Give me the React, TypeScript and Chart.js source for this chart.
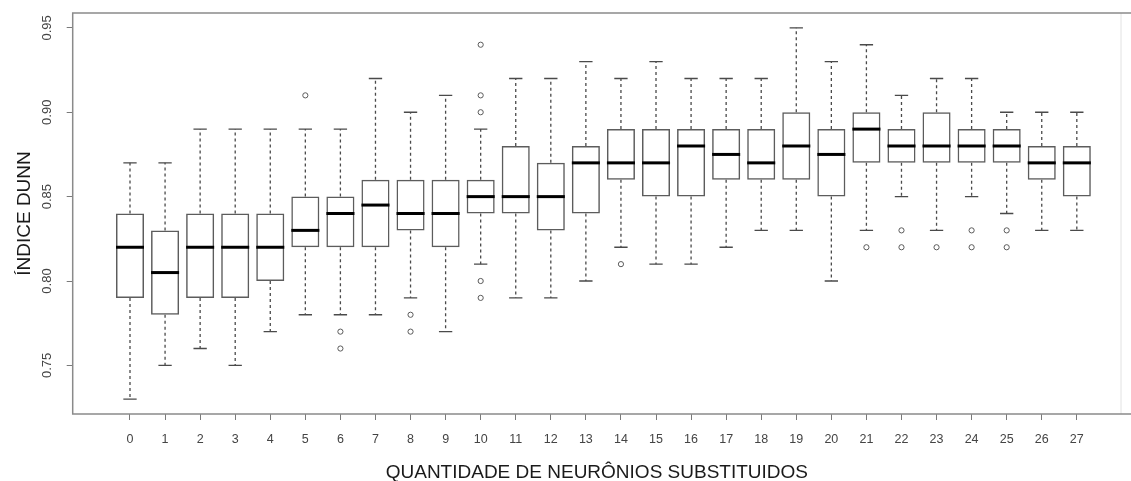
import React, { useEffect, useRef } from 'react';
import { Chart, registerables } from 'chart.js';

Chart.register(...registerables);

// ---- data ----
const categories = ['0','1','2','3','4','5','6','7','8','9','10','11','12','13','14','15','16','17','18','19','20','21','22','23','24','25','26','27'];
const lowerWhisker = [0.73,0.75,0.76,0.75,0.77,0.78,0.78,0.78,0.79,0.77,0.81,0.79,0.79,0.80,0.82,0.81,0.81,0.82,0.83,0.83,0.80,0.83,0.85,0.83,0.85,0.84,0.83,0.83];
const q1 = [0.79,0.78,0.79,0.79,0.80,0.82,0.82,0.82,0.83,0.82,0.84,0.84,0.83,0.84,0.86,0.85,0.85,0.86,0.86,0.86,0.85,0.87,0.87,0.87,0.87,0.87,0.86,0.85];
const median = [0.82,0.805,0.82,0.82,0.82,0.83,0.84,0.845,0.84,0.84,0.85,0.85,0.85,0.87,0.87,0.87,0.88,0.875,0.87,0.88,0.875,0.89,0.88,0.88,0.88,0.88,0.87,0.87];
const q3 = [0.84,0.83,0.84,0.84,0.84,0.85,0.85,0.86,0.86,0.86,0.86,0.88,0.87,0.88,0.89,0.89,0.89,0.89,0.89,0.90,0.89,0.90,0.89,0.90,0.89,0.89,0.88,0.88];
const upperWhisker = [0.87,0.87,0.89,0.89,0.89,0.89,0.89,0.92,0.90,0.91,0.89,0.92,0.92,0.93,0.92,0.93,0.92,0.92,0.92,0.95,0.93,0.94,0.91,0.92,0.92,0.90,0.90,0.90];
const outlierIndex = [5,6,6,8,8,10,10,10,10,10,14,21,22,22,23,24,24,25,25];
const outlierValue = [0.91,0.77,0.76,0.78,0.77,0.94,0.91,0.90,0.80,0.79,0.81,0.82,0.83,0.82,0.82,0.83,0.82,0.83,0.82];
const yTicks = [0.75,0.80,0.85,0.90,0.95];
const yMin = 0.7212;
const yMax = 0.9588;
const xMin = -1.634;
const xMax = 28.26;

const FONT = "'Liberation Sans', Arial, sans-serif";

const boxPlugin = {
  id: 'boxExtras',
  afterDatasetsDraw(chart: any) {
    const { ctx, chartArea, scales } = chart;
    const xs = scales.x;
    const ys = scales.y;
    const barMeta = chart.getDatasetMeta(0);
    const fullRight = chart.width;
    ctx.save();
    // frame (top/bottom run off to the right edge, right side faint)
    ctx.setLineDash([]);
    ctx.strokeStyle = '#e2e2e2';
    ctx.lineWidth = 1;
    ctx.beginPath();
    ctx.moveTo(chartArea.right, chartArea.top);
    ctx.lineTo(chartArea.right, chartArea.bottom);
    ctx.stroke();
    ctx.strokeStyle = '#8a8a8a';
    ctx.lineWidth = 1.5;
    ctx.beginPath();
    ctx.moveTo(fullRight, chartArea.top);
    ctx.lineTo(chartArea.left, chartArea.top);
    ctx.lineTo(chartArea.left, chartArea.bottom);
    ctx.lineTo(fullRight, chartArea.bottom);
    ctx.stroke();

    categories.forEach((_, i) => {
      const x = xs.getPixelForValue(i);
      const capHalf = Math.abs(xs.getPixelForValue(i + 0.19) - x);
      const yLo = ys.getPixelForValue(lowerWhisker[i]);
      const yQ1 = ys.getPixelForValue(q1[i]);
      const yQ3 = ys.getPixelForValue(q3[i]);
      const yHi = ys.getPixelForValue(upperWhisker[i]);
      const yMed = ys.getPixelForValue(median[i]);
      // dashed whiskers
      ctx.strokeStyle = '#4a4a4a';
      ctx.lineWidth = 1.3;
      ctx.setLineDash([3, 3]);
      ctx.beginPath();
      ctx.moveTo(x, yQ3);
      ctx.lineTo(x, yHi);
      ctx.moveTo(x, yQ1);
      ctx.lineTo(x, yLo);
      ctx.stroke();
      // caps
      ctx.setLineDash([]);
      ctx.beginPath();
      ctx.moveTo(x - capHalf, yHi);
      ctx.lineTo(x + capHalf, yHi);
      ctx.moveTo(x - capHalf, yLo);
      ctx.lineTo(x + capHalf, yLo);
      ctx.stroke();
      // median
      const bar = barMeta.data[i];
      const half = bar ? bar.width / 2 : capHalf * 2;
      ctx.strokeStyle = '#000';
      ctx.lineWidth = 3;
      ctx.beginPath();
      ctx.moveTo(x - half, yMed);
      ctx.lineTo(x + half, yMed);
      ctx.stroke();
    });

    // rotated y tick labels
    ctx.fillStyle = '#444';
    ctx.font = `13px ${FONT}`;
    ctx.textAlign = 'center';
    ctx.textBaseline = 'middle';
    yTicks.forEach((v) => {
      const y = ys.getPixelForValue(v);
      ctx.save();
      ctx.translate(chartArea.left - 25, y);
      ctx.rotate(-Math.PI / 2);
      ctx.fillText(v.toFixed(2), 0, 0);
      ctx.restore();
    });
    ctx.restore();
  },
};

export default function App() {
  const canvasRef = useRef<HTMLCanvasElement | null>(null);

  useEffect(() => {
    if (!canvasRef.current) return;
    const chart = new Chart(canvasRef.current, {
      type: 'bar',
      data: {
        datasets: [
          {
            type: 'bar',
            data: categories.map((_, i) => ({ x: i, y: [q1[i], q3[i]] })) as any,
            backgroundColor: 'rgba(0,0,0,0)',
            borderColor: '#5c5c5c',
            borderWidth: 1.5,
            borderSkipped: false,
            barPercentage: 0.8,
            categoryPercentage: 1,
          } as any,
          {
            type: 'scatter',
            data: outlierIndex.map((xi, k) => ({ x: xi, y: outlierValue[k] })),
            pointRadius: 2.6,
            pointStyle: 'circle',
            borderColor: '#5a5a5a',
            backgroundColor: 'rgba(0,0,0,0)',
            borderWidth: 1,
          } as any,
        ],
      },
      options: {
        animation: false,
        responsive: true,
        maintainAspectRatio: false,
        events: [],
        layout: { padding: { top: 13, right: 10, left: 0, bottom: 0 } },
        plugins: { legend: { display: false }, tooltip: { enabled: false } },
        scales: {
          x: {
            type: 'linear',
            min: xMin,
            max: xMax,
            offset: false,
            afterBuildTicks: (scale: any) => {
              scale.ticks = categories.map((_, i) => ({ value: i }));
            },
            afterFit: (scale: any) => {
              scale.height = 67;
            },
            ticks: {
              autoSkip: false,
              maxRotation: 0,
              minRotation: 0,
              padding: 12,
              color: '#444',
              font: { family: FONT, size: 12.5 },
              callback: (v: any) => categories[v] ?? '',
            },
            grid: { drawOnChartArea: false, drawTicks: true, tickLength: 6, tickColor: '#7a7a7a', offset: false },
            border: { display: false },
            title: {
              display: true,
              text: 'QUANTIDADE DE NEURÔNIOS SUBSTITUIDOS',
              color: '#1a1a1a',
              font: { family: FONT, size: 19, lineHeight: '16px' },
              padding: { top: 0, bottom: 0 },
            },
          },
          y: {
            type: 'linear',
            min: yMin,
            max: yMax,
            afterBuildTicks: (scale: any) => {
              scale.ticks = yTicks.map((v) => ({ value: v }));
            },
            afterFit: (scale: any) => {
              scale.width = 72.7;
            },
            ticks: { display: false },
            grid: { drawOnChartArea: false, drawTicks: true, tickLength: 6, tickColor: '#7a7a7a' },
            border: { display: false },
            title: {
              display: true,
              text: 'ÍNDICE DUNN',
              color: '#1a1a1a',
              font: { family: FONT, size: 19, lineHeight: '19px' },
              padding: { top: 15.5, bottom: 0 },
            },
          },
        },
      } as any,
      plugins: [boxPlugin],
    });
    return () => chart.destroy();
  }, []);

  return (
    <div style={{ position: 'fixed', left: 0, top: 0, width: 1131, height: 481, background: '#fff' }}>
      <canvas ref={canvasRef} />
    </div>
  );
}
